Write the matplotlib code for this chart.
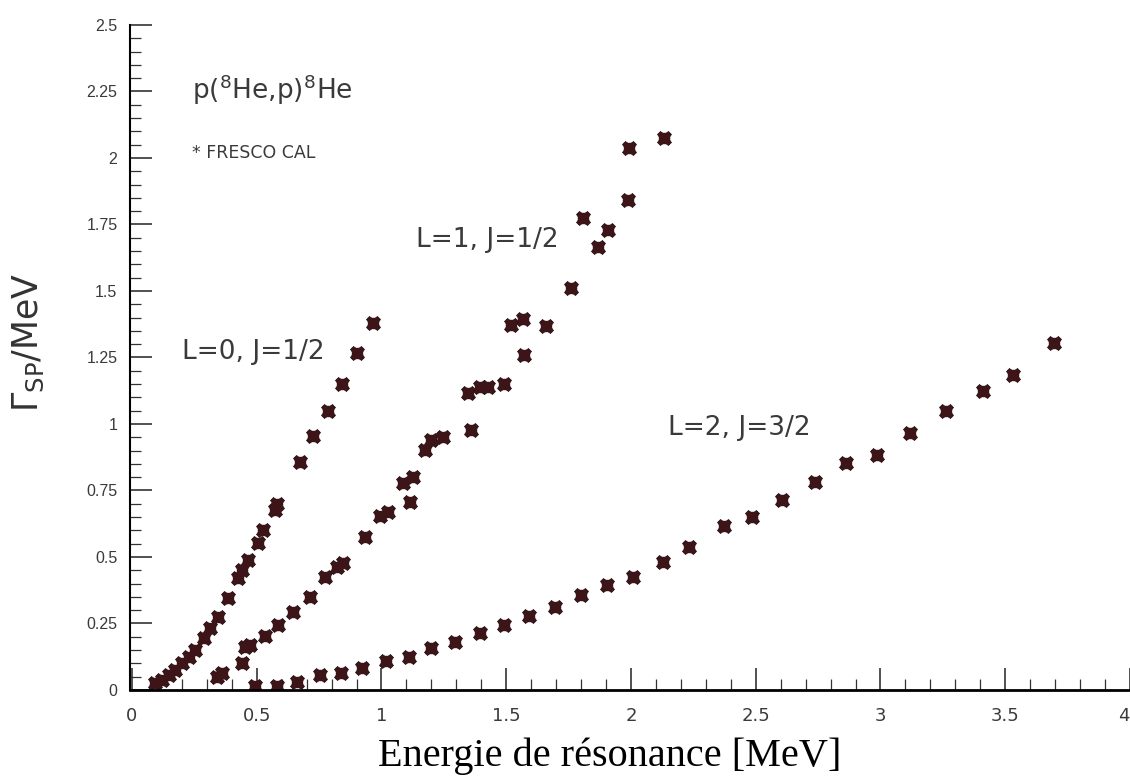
import numpy as np
import matplotlib.pyplot as plt
from matplotlib.ticker import MultipleLocator

# L=0, J=1/2
e_l0 = [0.093, 0.12, 0.147, 0.173, 0.2, 0.227, 0.253, 0.287, 0.313, 0.344, 0.384,
        0.427, 0.44, 0.464, 0.507, 0.527, 0.573, 0.58, 0.673, 0.724, 0.787, 0.843,
        0.903, 0.967]
g_l0 = [0.025, 0.038, 0.056, 0.075, 0.100, 0.125, 0.150, 0.194, 0.232, 0.273, 0.345,
        0.420, 0.451, 0.489, 0.551, 0.602, 0.677, 0.699, 0.858, 0.955, 1.049, 1.149,
        1.266, 1.379]

# L=1, J=1/2
e_l1 = [0.34, 0.36, 0.44, 0.453, 0.473, 0.533, 0.587, 0.647, 0.713, 0.773, 0.82,
        0.847, 0.933, 0.993, 1.027, 1.087, 1.113, 1.127, 1.173, 1.2, 1.247, 1.347,
        1.357, 1.393, 1.427, 1.493, 1.52, 1.567, 1.573, 1.66, 1.76, 1.807, 1.867,
        1.907, 1.987, 1.993, 2.133]
g_l1 = [0.050, 0.063, 0.100, 0.163, 0.169, 0.203, 0.244, 0.294, 0.351, 0.426, 0.464,
        0.479, 0.575, 0.655, 0.670, 0.777, 0.708, 0.800, 0.902, 0.940, 0.952, 1.118,
        0.977, 1.138, 1.138, 1.150, 1.372, 1.395, 1.259, 1.368, 1.510, 1.773, 1.667,
        1.729, 1.842, 2.036, 2.074]

# L=2, J=3/2
e_l2 = [0.493, 0.58, 0.66, 0.753, 0.837, 0.923, 1.017, 1.11, 1.2, 1.293, 1.393,
        1.493, 1.593, 1.697, 1.80, 1.905, 2.009, 2.127, 2.232, 2.371, 2.487, 2.607,
        2.737, 2.863, 2.987, 3.12, 3.264, 3.411, 3.531, 3.696]
g_l2 = [0.015, 0.015, 0.031, 0.056, 0.063, 0.081, 0.110, 0.125, 0.157, 0.182, 0.213,
        0.243, 0.280, 0.313, 0.357, 0.395, 0.426, 0.482, 0.538, 0.617, 0.652, 0.714,
        0.783, 0.855, 0.883, 0.967, 1.049, 1.125, 1.184, 1.303]

xticks = [0, 0.5, 1, 1.5, 2, 2.5, 3, 3.5, 4]
xticklabels = ['0', '0.5', '1', '1.5', '2', '2.5', '3', '3.5', '4']
yticks = [0, 0.25, 0.5, 0.75, 1, 1.25, 1.5, 1.75, 2, 2.25, 2.5]
yticklabels = ['0', '0.25', '0.5', '0.75', '1', '1.25', '1.5', '1.75', '2', '2.25', '2.5']

col = '#3d1519'
txt = '#3a3a3a'

fig = plt.figure(figsize=(11.3, 7.8), dpi=100)
ax = fig.add_axes([0.115, 0.1154, 0.885, 0.8526])

for e, g in [(e_l0, g_l0), (e_l1, g_l1), (e_l2, g_l2)]:
    ax.plot(e, g, ls='none', marker='X', ms=10.5, color=col, mec='#1a0a0c', mew=0.5)
    ax.plot(e, g, ls='none', marker='s', ms=7, color=col, mec=col)

ax.set_xlim(-0.008, 4.0)
ax.set_ylim(0, 2.5)

ax.spines['top'].set_visible(False)
ax.spines['right'].set_visible(False)
ax.spines['left'].set_linewidth(1.5)
ax.spines['bottom'].set_linewidth(2)

ax.xaxis.set_minor_locator(MultipleLocator(0.1))
ax.yaxis.set_minor_locator(MultipleLocator(0.05))
ax.tick_params(which='both', direction='in', top=False, right=False, color='#333333')
ax.tick_params(which='major', length=16, width=1.2)
ax.tick_params(which='minor', length=8, width=0.9)
ax.tick_params(axis='x', which='major', pad=12)
ax.tick_params(axis='y', which='major', pad=9)

ax.set_xticks(xticks)
ax.set_xticklabels(xticklabels, family='Liberation Sans Narrow', fontsize=13, color=txt)
ax.get_xticklabels()[-1].set_horizontalalignment('right')
ax.set_yticks(yticks)
ax.set_yticklabels(yticklabels, family='Liberation Sans', fontsize=11.5, color=txt)

ax.set_xlabel('Energie de résonance [MeV]', family='Liberation Serif', fontsize=29)
ax.xaxis.set_label_coords(0.48, -0.071)
ax.set_ylabel(r'$\Gamma_{\rm SP}$/MeV', family='DejaVu Sans', fontsize=25, color='#333333')
ax.yaxis.set_label_coords(-0.084, 0.523)

ax.text(0.24, 2.255, r'p($^{8}$He,p)$^{8}$He', family='DejaVu Sans', fontsize=19,
        color=txt, va='center')
ax.text(0.24, 2.02, '* FRESCO CAL', family='DejaVu Sans', fontsize=12.5,
        color=txt, va='center')
ax.text(0.2, 1.27, 'L=0, J=1/2', family='DejaVu Sans', fontsize=19,
        color=txt, va='center')
ax.text(1.14, 1.69, 'L=1, J=1/2', family='DejaVu Sans', fontsize=19,
        color=txt, va='center')
ax.text(2.15, 0.985, 'L=2, J=3/2', family='DejaVu Sans', fontsize=19,
        color=txt, va='center')

fig.savefig('out.png', dpi=100)
